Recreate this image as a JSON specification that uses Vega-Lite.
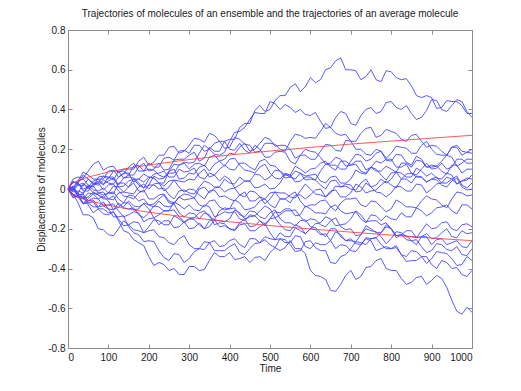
{
"$schema":"https://vega.github.io/schema/vega-lite/v6.json",
"width":404,"height":318,"autosize":"none",
"padding":{"left":68,"top":30,"right":49,"bottom":43},
"background":"white",
"title":{"text":"Trajectories of molecules of an ensemble and the trajectories of an average molecule","fontSize":10,"fontWeight":"normal","font":"Liberation Sans","color":"#1a1a1a","offset":6},
"config":{"view":{"stroke":"#8c8c8c","strokeWidth":1},"axis":{"grid":false,"domainColor":"#8c8c8c","tickColor":"#8c8c8c","labelColor":"#1a1a1a","labelFont":"Liberation Sans","labelFontSize":10,"titleFont":"Liberation Sans","titleFontSize":10,"titleFontWeight":"normal","titleColor":"#1a1a1a"}},
"resolve":{"axis":{"x":"independent","y":"independent"}},
"layer":[
{"data":{"values":[
{"s":"a","x":0,"y":0},{"s":"a","x":25,"y":0.03},{"s":"a","x":50,"y":-0.01},{"s":"a","x":75,"y":0.04},{"s":"a","x":100,"y":0.06},{"s":"a","x":125,"y":0.02},{"s":"a","x":150,"y":0.07},{"s":"a","x":175,"y":0.11},{"s":"a","x":200,"y":0.09},{"s":"a","x":225,"y":0.13},{"s":"a","x":250,"y":0.10},{"s":"a","x":275,"y":0.15},{"s":"a","x":300,"y":0.17},{"s":"a","x":325,"y":0.14},{"s":"a","x":350,"y":0.21},{"s":"a","x":375,"y":0.19},{"s":"a","x":400,"y":0.25},{"s":"a","x":425,"y":0.31},{"s":"a","x":450,"y":0.33},{"s":"a","x":475,"y":0.42},{"s":"a","x":500,"y":0.40},{"s":"a","x":525,"y":0.47},{"s":"a","x":550,"y":0.51},{"s":"a","x":575,"y":0.49},{"s":"a","x":600,"y":0.56},{"s":"a","x":625,"y":0.55},{"s":"a","x":650,"y":0.61},{"s":"a","x":675,"y":0.66},{"s":"a","x":700,"y":0.60},{"s":"a","x":725,"y":0.55},{"s":"a","x":750,"y":0.60},{"s":"a","x":775,"y":0.54},{"s":"a","x":800,"y":0.59},{"s":"a","x":825,"y":0.55},{"s":"a","x":850,"y":0.52},{"s":"a","x":875,"y":0.46},{"s":"a","x":900,"y":0.46},{"s":"a","x":925,"y":0.41},{"s":"a","x":950,"y":0.44},{"s":"a","x":975,"y":0.42},{"s":"a","x":1000,"y":0.38},
{"s":"a","x":12.5,"y":0.035},{"s":"a","x":37.5,"y":-0.01},{"s":"a","x":62.5,"y":0.025},{"s":"a","x":87.5,"y":0.02},{"s":"a","x":112.5,"y":0.06},{"s":"a","x":137.5,"y":0.055},{"s":"a","x":162.5,"y":0.07},{"s":"a","x":187.5,"y":0.13},{"s":"a","x":212.5,"y":0.10},{"s":"a","x":237.5,"y":0.095},{"s":"a","x":262.5,"y":0.145},{"s":"a","x":287.5,"y":0.15},{"s":"a","x":312.5,"y":0.185},{"s":"a","x":337.5,"y":0.155},{"s":"a","x":362.5,"y":0.19},{"s":"a","x":387.5,"y":0.24},{"s":"a","x":412.5,"y":0.25},{"s":"a","x":437.5,"y":0.33},{"s":"a","x":462.5,"y":0.395},{"s":"a","x":487.5,"y":0.39},{"s":"a","x":512.5,"y":0.445},{"s":"a","x":537.5,"y":0.47},{"s":"a","x":562.5,"y":0.53},{"s":"a","x":587.5,"y":0.515},{"s":"a","x":612.5,"y":0.535},{"s":"a","x":637.5,"y":0.60},{"s":"a","x":662.5,"y":0.645},{"s":"a","x":687.5,"y":0.60},{"s":"a","x":712.5,"y":0.595},{"s":"a","x":737.5,"y":0.565},{"s":"a","x":762.5,"y":0.55},{"s":"a","x":787.5,"y":0.595},{"s":"a","x":812.5,"y":0.56},{"s":"a","x":837.5,"y":0.555},{"s":"a","x":862.5,"y":0.47},{"s":"a","x":887.5,"y":0.47},{"s":"a","x":912.5,"y":0.405},{"s":"a","x":937.5,"y":0.445},{"s":"a","x":962.5,"y":0.44},{"s":"a","x":987.5,"y":0.38},
{"s":"b","x":0,"y":0},{"s":"b","x":25,"y":-0.03},{"s":"b","x":50,"y":0.02},{"s":"b","x":75,"y":-0.01},{"s":"b","x":100,"y":-0.02},{"s":"b","x":125,"y":0.03},{"s":"b","x":150,"y":0.01},{"s":"b","x":175,"y":0.05},{"s":"b","x":200,"y":0.06},{"s":"b","x":225,"y":0.03},{"s":"b","x":250,"y":0.09},{"s":"b","x":275,"y":0.12},{"s":"b","x":300,"y":0.13},{"s":"b","x":325,"y":0.18},{"s":"b","x":350,"y":0.20},{"s":"b","x":375,"y":0.17},{"s":"b","x":400,"y":0.24},{"s":"b","x":425,"y":0.29},{"s":"b","x":450,"y":0.35},{"s":"b","x":475,"y":0.38},{"s":"b","x":500,"y":0.44},{"s":"b","x":525,"y":0.40},{"s":"b","x":550,"y":0.41},{"s":"b","x":575,"y":0.40},{"s":"b","x":600,"y":0.37},{"s":"b","x":625,"y":0.34},{"s":"b","x":650,"y":0.31},{"s":"b","x":675,"y":0.39},{"s":"b","x":700,"y":0.33},{"s":"b","x":725,"y":0.37},{"s":"b","x":750,"y":0.41},{"s":"b","x":775,"y":0.39},{"s":"b","x":800,"y":0.44},{"s":"b","x":825,"y":0.40},{"s":"b","x":850,"y":0.38},{"s":"b","x":875,"y":0.36},{"s":"b","x":900,"y":0.45},{"s":"b","x":925,"y":0.40},{"s":"b","x":950,"y":0.42},{"s":"b","x":975,"y":0.44},{"s":"b","x":1000,"y":0.36},
{"s":"b","x":12.5,"y":0.015},{"s":"b","x":37.5,"y":-0.025},{"s":"b","x":62.5,"y":-0.005},{"s":"b","x":87.5,"y":0.005},{"s":"b","x":112.5,"y":-0.025},{"s":"b","x":137.5,"y":0.03},{"s":"b","x":162.5,"y":0.05},{"s":"b","x":187.5,"y":0.035},{"s":"b","x":212.5,"y":0.055},{"s":"b","x":237.5,"y":0.03},{"s":"b","x":262.5,"y":0.125},{"s":"b","x":287.5,"y":0.135},{"s":"b","x":312.5,"y":0.135},{"s":"b","x":337.5,"y":0.22},{"s":"b","x":362.5,"y":0.175},{"s":"b","x":387.5,"y":0.185},{"s":"b","x":412.5,"y":0.285},{"s":"b","x":437.5,"y":0.31},{"s":"b","x":462.5,"y":0.385},{"s":"b","x":487.5,"y":0.38},{"s":"b","x":512.5,"y":0.43},{"s":"b","x":537.5,"y":0.425},{"s":"b","x":562.5,"y":0.385},{"s":"b","x":587.5,"y":0.375},{"s":"b","x":612.5,"y":0.385},{"s":"b","x":637.5,"y":0.305},{"s":"b","x":662.5,"y":0.36},{"s":"b","x":687.5,"y":0.38},{"s":"b","x":712.5,"y":0.32},{"s":"b","x":737.5,"y":0.40},{"s":"b","x":762.5,"y":0.38},{"s":"b","x":787.5,"y":0.435},{"s":"b","x":812.5,"y":0.41},{"s":"b","x":837.5,"y":0.42},{"s":"b","x":862.5,"y":0.35},{"s":"b","x":887.5,"y":0.395},{"s":"b","x":912.5,"y":0.445},{"s":"b","x":937.5,"y":0.39},{"s":"b","x":962.5,"y":0.45},{"s":"b","x":987.5,"y":0.39},
{"s":"c","x":0,"y":0},{"s":"c","x":25,"y":0.04},{"s":"c","x":50,"y":0.07},{"s":"c","x":75,"y":0.05},{"s":"c","x":100,"y":0.09},{"s":"c","x":125,"y":0.06},{"s":"c","x":150,"y":0.11},{"s":"c","x":175,"y":0.09},{"s":"c","x":200,"y":0.13},{"s":"c","x":225,"y":0.11},{"s":"c","x":250,"y":0.16},{"s":"c","x":275,"y":0.19},{"s":"c","x":300,"y":0.18},{"s":"c","x":325,"y":0.22},{"s":"c","x":350,"y":0.20},{"s":"c","x":375,"y":0.24},{"s":"c","x":400,"y":0.21},{"s":"c","x":425,"y":0.25},{"s":"c","x":450,"y":0.22},{"s":"c","x":475,"y":0.19},{"s":"c","x":500,"y":0.23},{"s":"c","x":525,"y":0.20},{"s":"c","x":550,"y":0.24},{"s":"c","x":575,"y":0.27},{"s":"c","x":600,"y":0.26},{"s":"c","x":625,"y":0.29},{"s":"c","x":650,"y":0.31},{"s":"c","x":675,"y":0.27},{"s":"c","x":700,"y":0.24},{"s":"c","x":725,"y":0.28},{"s":"c","x":750,"y":0.31},{"s":"c","x":775,"y":0.27},{"s":"c","x":800,"y":0.29},{"s":"c","x":825,"y":0.25},{"s":"c","x":850,"y":0.27},{"s":"c","x":875,"y":0.24},{"s":"c","x":900,"y":0.22},{"s":"c","x":925,"y":0.19},{"s":"c","x":950,"y":0.21},{"s":"c","x":975,"y":0.17},{"s":"c","x":1000,"y":0.18},
{"s":"c","x":12.5,"y":0},{"s":"c","x":37.5,"y":0.085},{"s":"c","x":62.5,"y":0.05},{"s":"c","x":87.5,"y":0.05},{"s":"c","x":112.5,"y":0.095},{"s":"c","x":137.5,"y":0.075},{"s":"c","x":162.5,"y":0.13},{"s":"c","x":187.5,"y":0.09},{"s":"c","x":212.5,"y":0.11},{"s":"c","x":237.5,"y":0.155},{"s":"c","x":262.5,"y":0.145},{"s":"c","x":287.5,"y":0.195},{"s":"c","x":312.5,"y":0.22},{"s":"c","x":337.5,"y":0.19},{"s":"c","x":362.5,"y":0.23},{"s":"c","x":387.5,"y":0.205},{"s":"c","x":412.5,"y":0.26},{"s":"c","x":437.5,"y":0.225},{"s":"c","x":462.5,"y":0.185},{"s":"c","x":487.5,"y":0.23},{"s":"c","x":512.5,"y":0.225},{"s":"c","x":537.5,"y":0.19},{"s":"c","x":562.5,"y":0.275},{"s":"c","x":587.5,"y":0.255},{"s":"c","x":612.5,"y":0.255},{"s":"c","x":637.5,"y":0.33},{"s":"c","x":662.5,"y":0.28},{"s":"c","x":687.5,"y":0.275},{"s":"c","x":712.5,"y":0.24},{"s":"c","x":737.5,"y":0.305},{"s":"c","x":762.5,"y":0.26},{"s":"c","x":787.5,"y":0.30},{"s":"c","x":812.5,"y":0.28},{"s":"c","x":837.5,"y":0.24},{"s":"c","x":862.5,"y":0.275},{"s":"c","x":887.5,"y":0.21},{"s":"c","x":912.5,"y":0.215},{"s":"c","x":937.5,"y":0.17},{"s":"c","x":962.5,"y":0.21},{"s":"c","x":987.5,"y":0.185},
{"s":"d","x":0,"y":0},{"s":"d","x":25,"y":0.06},{"s":"d","x":50,"y":0.09},{"s":"d","x":75,"y":0.14},{"s":"d","x":100,"y":0.11},{"s":"d","x":125,"y":0.08},{"s":"d","x":150,"y":0.10},{"s":"d","x":175,"y":0.14},{"s":"d","x":200,"y":0.12},{"s":"d","x":225,"y":0.17},{"s":"d","x":250,"y":0.21},{"s":"d","x":275,"y":0.18},{"s":"d","x":300,"y":0.22},{"s":"d","x":325,"y":0.25},{"s":"d","x":350,"y":0.28},{"s":"d","x":375,"y":0.24},{"s":"d","x":400,"y":0.20},{"s":"d","x":425,"y":0.23},{"s":"d","x":450,"y":0.18},{"s":"d","x":475,"y":0.20},{"s":"d","x":500,"y":0.16},{"s":"d","x":525,"y":0.19},{"s":"d","x":550,"y":0.14},{"s":"d","x":575,"y":0.17},{"s":"d","x":600,"y":0.15},{"s":"d","x":625,"y":0.19},{"s":"d","x":650,"y":0.22},{"s":"d","x":675,"y":0.19},{"s":"d","x":700,"y":0.24},{"s":"d","x":725,"y":0.20},{"s":"d","x":750,"y":0.17},{"s":"d","x":775,"y":0.19},{"s":"d","x":800,"y":0.14},{"s":"d","x":825,"y":0.17},{"s":"d","x":850,"y":0.12},{"s":"d","x":875,"y":0.15},{"s":"d","x":900,"y":0.11},{"s":"d","x":925,"y":0.14},{"s":"d","x":950,"y":0.16},{"s":"d","x":975,"y":0.13},{"s":"d","x":1000,"y":0.15},
{"s":"d","x":12.5,"y":0.05},{"s":"d","x":37.5,"y":0.055},{"s":"d","x":62.5,"y":0.125},{"s":"d","x":87.5,"y":0.095},{"s":"d","x":112.5,"y":0.115},{"s":"d","x":137.5,"y":0.10},{"s":"d","x":162.5,"y":0.10},{"s":"d","x":187.5,"y":0.16},{"s":"d","x":212.5,"y":0.135},{"s":"d","x":237.5,"y":0.17},{"s":"d","x":262.5,"y":0.215},{"s":"d","x":287.5,"y":0.19},{"s":"d","x":312.5,"y":0.255},{"s":"d","x":337.5,"y":0.235},{"s":"d","x":362.5,"y":0.27},{"s":"d","x":387.5,"y":0.24},{"s":"d","x":412.5,"y":0.195},{"s":"d","x":437.5,"y":0.195},{"s":"d","x":462.5,"y":0.22},{"s":"d","x":487.5,"y":0.16},{"s":"d","x":512.5,"y":0.185},{"s":"d","x":537.5,"y":0.185},{"s":"d","x":562.5,"y":0.125},{"s":"d","x":587.5,"y":0.17},{"s":"d","x":612.5,"y":0.15},{"s":"d","x":637.5,"y":0.225},{"s":"d","x":662.5,"y":0.195},{"s":"d","x":687.5,"y":0.245},{"s":"d","x":712.5,"y":0.20},{"s":"d","x":737.5,"y":0.175},{"s":"d","x":762.5,"y":0.20},{"s":"d","x":787.5,"y":0.145},{"s":"d","x":812.5,"y":0.175},{"s":"d","x":837.5,"y":0.135},{"s":"d","x":862.5,"y":0.165},{"s":"d","x":887.5,"y":0.11},{"s":"d","x":912.5,"y":0.115},{"s":"d","x":937.5,"y":0.17},{"s":"d","x":962.5,"y":0.115},{"s":"d","x":987.5,"y":0.15},
{"s":"e","x":0,"y":0},{"s":"e","x":25,"y":0.02},{"s":"e","x":50,"y":0.05},{"s":"e","x":75,"y":0.03},{"s":"e","x":100,"y":0.06},{"s":"e","x":125,"y":0.09},{"s":"e","x":150,"y":0.07},{"s":"e","x":175,"y":0.12},{"s":"e","x":200,"y":0.10},{"s":"e","x":225,"y":0.07},{"s":"e","x":250,"y":0.09},{"s":"e","x":275,"y":0.05},{"s":"e","x":300,"y":0.08},{"s":"e","x":325,"y":0.11},{"s":"e","x":350,"y":0.09},{"s":"e","x":375,"y":0.14},{"s":"e","x":400,"y":0.15},{"s":"e","x":425,"y":0.12},{"s":"e","x":450,"y":0.09},{"s":"e","x":475,"y":0.11},{"s":"e","x":500,"y":0.08},{"s":"e","x":525,"y":0.05},{"s":"e","x":550,"y":0.07},{"s":"e","x":575,"y":0.04},{"s":"e","x":600,"y":0.06},{"s":"e","x":625,"y":0.09},{"s":"e","x":650,"y":0.12},{"s":"e","x":675,"y":0.10},{"s":"e","x":700,"y":0.14},{"s":"e","x":725,"y":0.17},{"s":"e","x":750,"y":0.15},{"s":"e","x":775,"y":0.19},{"s":"e","x":800,"y":0.18},{"s":"e","x":825,"y":0.21},{"s":"e","x":850,"y":0.18},{"s":"e","x":875,"y":0.22},{"s":"e","x":900,"y":0.20},{"s":"e","x":925,"y":0.17},{"s":"e","x":950,"y":0.21},{"s":"e","x":975,"y":0.19},{"s":"e","x":1000,"y":0.20},
{"s":"e","x":12.5,"y":0.04},{"s":"e","x":37.5,"y":0.015},{"s":"e","x":62.5,"y":0.03},{"s":"e","x":87.5,"y":0.065},{"s":"e","x":112.5,"y":0.045},{"s":"e","x":137.5,"y":0.09},{"s":"e","x":162.5,"y":0.115},{"s":"e","x":187.5,"y":0.09},{"s":"e","x":212.5,"y":0.095},{"s":"e","x":237.5,"y":0.06},{"s":"e","x":262.5,"y":0.10},{"s":"e","x":287.5,"y":0.055},{"s":"e","x":312.5,"y":0.075},{"s":"e","x":337.5,"y":0.12},{"s":"e","x":362.5,"y":0.125},{"s":"e","x":387.5,"y":0.115},{"s":"e","x":412.5,"y":0.155},{"s":"e","x":437.5,"y":0.095},{"s":"e","x":462.5,"y":0.08},{"s":"e","x":487.5,"y":0.125},{"s":"e","x":512.5,"y":0.055},{"s":"e","x":537.5,"y":0.08},{"s":"e","x":562.5,"y":0.035},{"s":"e","x":587.5,"y":0.06},{"s":"e","x":612.5,"y":0.045},{"s":"e","x":637.5,"y":0.125},{"s":"e","x":662.5,"y":0.12},{"s":"e","x":687.5,"y":0.10},{"s":"e","x":712.5,"y":0.175},{"s":"e","x":737.5,"y":0.14},{"s":"e","x":762.5,"y":0.18},{"s":"e","x":787.5,"y":0.155},{"s":"e","x":812.5,"y":0.215},{"s":"e","x":837.5,"y":0.205},{"s":"e","x":862.5,"y":0.18},{"s":"e","x":887.5,"y":0.24},{"s":"e","x":912.5,"y":0.175},{"s":"e","x":937.5,"y":0.17},{"s":"e","x":962.5,"y":0.22},{"s":"e","x":987.5,"y":0.185},
{"s":"f","x":0,"y":0},{"s":"f","x":25,"y":-0.02},{"s":"f","x":50,"y":0.01},{"s":"f","x":75,"y":-0.03},{"s":"f","x":100,"y":-0.02},{"s":"f","x":125,"y":0.01},{"s":"f","x":150,"y":0.04},{"s":"f","x":175,"y":0.02},{"s":"f","x":200,"y":0.05},{"s":"f","x":225,"y":0.08},{"s":"f","x":250,"y":0.06},{"s":"f","x":275,"y":0.10},{"s":"f","x":300,"y":0.09},{"s":"f","x":325,"y":0.06},{"s":"f","x":350,"y":0.08},{"s":"f","x":375,"y":0.04},{"s":"f","x":400,"y":0.05},{"s":"f","x":425,"y":0.02},{"s":"f","x":450,"y":0.04},{"s":"f","x":475,"y":0.01},{"s":"f","x":500,"y":0},{"s":"f","x":525,"y":0.03},{"s":"f","x":550,"y":0.06},{"s":"f","x":575,"y":0.08},{"s":"f","x":600,"y":0.07},{"s":"f","x":625,"y":0.04},{"s":"f","x":650,"y":0.06},{"s":"f","x":675,"y":0.03},{"s":"f","x":700,"y":0.05},{"s":"f","x":725,"y":0.08},{"s":"f","x":750,"y":0.11},{"s":"f","x":775,"y":0.09},{"s":"f","x":800,"y":0.10},{"s":"f","x":825,"y":0.13},{"s":"f","x":850,"y":0.11},{"s":"f","x":875,"y":0.14},{"s":"f","x":900,"y":0.12},{"s":"f","x":925,"y":0.09},{"s":"f","x":950,"y":0.12},{"s":"f","x":975,"y":0.08},{"s":"f","x":1000,"y":0.10},
{"s":"f","x":12.5,"y":-0.03},{"s":"f","x":37.5,"y":0.025},{"s":"f","x":62.5,"y":-0.02},{"s":"f","x":87.5,"y":-0.045},{"s":"f","x":112.5,"y":0.015},{"s":"f","x":137.5,"y":0.015},{"s":"f","x":162.5,"y":0.05},{"s":"f","x":187.5,"y":0.005},{"s":"f","x":212.5,"y":0.075},{"s":"f","x":237.5,"y":0.09},{"s":"f","x":262.5,"y":0.06},{"s":"f","x":287.5,"y":0.085},{"s":"f","x":312.5,"y":0.105},{"s":"f","x":337.5,"y":0.05},{"s":"f","x":362.5,"y":0.07},{"s":"f","x":387.5,"y":0.065},{"s":"f","x":412.5,"y":0.005},{"s":"f","x":437.5,"y":0.04},{"s":"f","x":462.5,"y":0.005},{"s":"f","x":487.5,"y":0.025},{"s":"f","x":512.5,"y":0.005},{"s":"f","x":537.5,"y":0.075},{"s":"f","x":562.5,"y":0.05},{"s":"f","x":587.5,"y":0.065},{"s":"f","x":612.5,"y":0.075},{"s":"f","x":637.5,"y":0.03},{"s":"f","x":662.5,"y":0.065},{"s":"f","x":687.5,"y":0.03},{"s":"f","x":712.5,"y":0.095},{"s":"f","x":737.5,"y":0.075},{"s":"f","x":762.5,"y":0.09},{"s":"f","x":787.5,"y":0.115},{"s":"f","x":812.5,"y":0.085},{"s":"f","x":837.5,"y":0.13},{"s":"f","x":862.5,"y":0.145},{"s":"f","x":887.5,"y":0.11},{"s":"f","x":912.5,"y":0.115},{"s":"f","x":937.5,"y":0.075},{"s":"f","x":962.5,"y":0.12},{"s":"f","x":987.5,"y":0.10},
{"s":"g","x":0,"y":0},{"s":"g","x":25,"y":0.03},{"s":"g","x":50,"y":0.01},{"s":"g","x":75,"y":0.05},{"s":"g","x":100,"y":0.04},{"s":"g","x":125,"y":0.01},{"s":"g","x":150,"y":-0.02},{"s":"g","x":175,"y":0.01},{"s":"g","x":200,"y":0},{"s":"g","x":225,"y":0.03},{"s":"g","x":250,"y":0.01},{"s":"g","x":275,"y":0.04},{"s":"g","x":300,"y":0.05},{"s":"g","x":325,"y":0.08},{"s":"g","x":350,"y":0.06},{"s":"g","x":375,"y":0.10},{"s":"g","x":400,"y":0.10},{"s":"g","x":425,"y":0.13},{"s":"g","x":450,"y":0.11},{"s":"g","x":475,"y":0.14},{"s":"g","x":500,"y":0.12},{"s":"g","x":525,"y":0.09},{"s":"g","x":550,"y":0.06},{"s":"g","x":575,"y":0.08},{"s":"g","x":600,"y":0.05},{"s":"g","x":625,"y":0.02},{"s":"g","x":650,"y":0.04},{"s":"g","x":675,"y":0.01},{"s":"g","x":700,"y":0},{"s":"g","x":725,"y":0.03},{"s":"g","x":750,"y":0.01},{"s":"g","x":775,"y":0.05},{"s":"g","x":800,"y":0.05},{"s":"g","x":825,"y":0.08},{"s":"g","x":850,"y":0.06},{"s":"g","x":875,"y":0.09},{"s":"g","x":900,"y":0.08},{"s":"g","x":925,"y":0.05},{"s":"g","x":950,"y":0.07},{"s":"g","x":975,"y":0.04},{"s":"g","x":1000,"y":0.05},
{"s":"g","x":12.5,"y":0.035},{"s":"g","x":37.5,"y":0},{"s":"g","x":62.5,"y":0.04},{"s":"g","x":87.5,"y":0.025},{"s":"g","x":112.5,"y":0.055},{"s":"g","x":137.5,"y":-0.015},{"s":"g","x":162.5,"y":-0.025},{"s":"g","x":187.5,"y":0.025},{"s":"g","x":212.5,"y":0.025},{"s":"g","x":237.5,"y":-0.01},{"s":"g","x":262.5,"y":0.045},{"s":"g","x":287.5,"y":0.035},{"s":"g","x":312.5,"y":0.045},{"s":"g","x":337.5,"y":0.10},{"s":"g","x":362.5,"y":0.07},{"s":"g","x":387.5,"y":0.12},{"s":"g","x":412.5,"y":0.095},{"s":"g","x":437.5,"y":0.13},{"s":"g","x":462.5,"y":0.095},{"s":"g","x":487.5,"y":0.15},{"s":"g","x":512.5,"y":0.115},{"s":"g","x":537.5,"y":0.055},{"s":"g","x":562.5,"y":0.09},{"s":"g","x":587.5,"y":0.045},{"s":"g","x":612.5,"y":0.045},{"s":"g","x":637.5,"y":0},{"s":"g","x":662.5,"y":0.045},{"s":"g","x":687.5,"y":0.015},{"s":"g","x":712.5,"y":-0.005},{"s":"g","x":737.5,"y":0.05},{"s":"g","x":762.5,"y":0.02},{"s":"g","x":787.5,"y":0.03},{"s":"g","x":812.5,"y":0.085},{"s":"g","x":837.5,"y":0.06},{"s":"g","x":862.5,"y":0.105},{"s":"g","x":887.5,"y":0.065},{"s":"g","x":912.5,"y":0.055},{"s":"g","x":937.5,"y":0.08},{"s":"g","x":962.5,"y":0.025},{"s":"g","x":987.5,"y":0.055},
{"s":"h","x":0,"y":0},{"s":"h","x":25,"y":-0.03},{"s":"h","x":50,"y":-0.05},{"s":"h","x":75,"y":-0.02},{"s":"h","x":100,"y":-0.05},{"s":"h","x":125,"y":-0.02},{"s":"h","x":150,"y":0.01},{"s":"h","x":175,"y":-0.01},{"s":"h","x":200,"y":0.02},{"s":"h","x":225,"y":0},{"s":"h","x":250,"y":-0.03},{"s":"h","x":275,"y":-0.01},{"s":"h","x":300,"y":-0.02},{"s":"h","x":325,"y":0.01},{"s":"h","x":350,"y":0.03},{"s":"h","x":375,"y":0.01},{"s":"h","x":400,"y":0.03},{"s":"h","x":425,"y":0.06},{"s":"h","x":450,"y":0.04},{"s":"h","x":475,"y":0.07},{"s":"h","x":500,"y":0.06},{"s":"h","x":525,"y":0.09},{"s":"h","x":550,"y":0.07},{"s":"h","x":575,"y":0.10},{"s":"h","x":600,"y":0.10},{"s":"h","x":625,"y":0.13},{"s":"h","x":650,"y":0.11},{"s":"h","x":675,"y":0.14},{"s":"h","x":700,"y":0.12},{"s":"h","x":725,"y":0.09},{"s":"h","x":750,"y":0.11},{"s":"h","x":775,"y":0.07},{"s":"h","x":800,"y":0.08},{"s":"h","x":825,"y":0.05},{"s":"h","x":850,"y":0.08},{"s":"h","x":875,"y":0.10},{"s":"h","x":900,"y":0.10},{"s":"h","x":925,"y":0.13},{"s":"h","x":950,"y":0.11},{"s":"h","x":975,"y":0.15},{"s":"h","x":1000,"y":0.13},
{"s":"h","x":12.5,"y":0.005},{"s":"h","x":37.5,"y":-0.07},{"s":"h","x":62.5,"y":-0.025},{"s":"h","x":87.5,"y":-0.015},{"s":"h","x":112.5,"y":-0.055},{"s":"h","x":137.5,"y":-0.015},{"s":"h","x":162.5,"y":0.03},{"s":"h","x":187.5,"y":-0.015},{"s":"h","x":212.5,"y":0.02},{"s":"h","x":237.5,"y":0.005},{"s":"h","x":262.5,"y":-0.05},{"s":"h","x":287.5,"y":-0.005},{"s":"h","x":312.5,"y":-0.025},{"s":"h","x":337.5,"y":0.04},{"s":"h","x":362.5,"y":0.01},{"s":"h","x":387.5,"y":0.05},{"s":"h","x":412.5,"y":0.025},{"s":"h","x":437.5,"y":0.04},{"s":"h","x":462.5,"y":0.075},{"s":"h","x":487.5,"y":0.045},{"s":"h","x":512.5,"y":0.095},{"s":"h","x":537.5,"y":0.07},{"s":"h","x":562.5,"y":0.115},{"s":"h","x":587.5,"y":0.08},{"s":"h","x":612.5,"y":0.105},{"s":"h","x":637.5,"y":0.14},{"s":"h","x":662.5,"y":0.095},{"s":"h","x":687.5,"y":0.14},{"s":"h","x":712.5,"y":0.125},{"s":"h","x":737.5,"y":0.08},{"s":"h","x":762.5,"y":0.10},{"s":"h","x":787.5,"y":0.045},{"s":"h","x":812.5,"y":0.085},{"s":"h","x":837.5,"y":0.075},{"s":"h","x":862.5,"y":0.07},{"s":"h","x":887.5,"y":0.13},{"s":"h","x":912.5,"y":0.105},{"s":"h","x":937.5,"y":0.10},{"s":"h","x":962.5,"y":0.15},{"s":"h","x":987.5,"y":0.13},
{"s":"i","x":0,"y":0},{"s":"i","x":25,"y":0.02},{"s":"i","x":50,"y":0},{"s":"i","x":75,"y":0.03},{"s":"i","x":100,"y":0.02},{"s":"i","x":125,"y":-0.01},{"s":"i","x":150,"y":-0.04},{"s":"i","x":175,"y":-0.02},{"s":"i","x":200,"y":-0.05},{"s":"i","x":225,"y":-0.03},{"s":"i","x":250,"y":-0.06},{"s":"i","x":275,"y":-0.04},{"s":"i","x":300,"y":-0.03},{"s":"i","x":325,"y":0},{"s":"i","x":350,"y":-0.02},{"s":"i","x":375,"y":0.01},{"s":"i","x":400,"y":0},{"s":"i","x":425,"y":-0.03},{"s":"i","x":450,"y":-0.01},{"s":"i","x":475,"y":-0.04},{"s":"i","x":500,"y":-0.05},{"s":"i","x":525,"y":-0.02},{"s":"i","x":550,"y":-0.04},{"s":"i","x":575,"y":-0.01},{"s":"i","x":600,"y":0},{"s":"i","x":625,"y":-0.03},{"s":"i","x":650,"y":-0.01},{"s":"i","x":675,"y":-0.04},{"s":"i","x":700,"y":-0.02},{"s":"i","x":725,"y":0.01},{"s":"i","x":750,"y":-0.01},{"s":"i","x":775,"y":0.02},{"s":"i","x":800,"y":0.02},{"s":"i","x":825,"y":0.05},{"s":"i","x":850,"y":0.03},{"s":"i","x":875,"y":0.06},{"s":"i","x":900,"y":0.05},{"s":"i","x":925,"y":0.02},{"s":"i","x":950,"y":0.04},{"s":"i","x":975,"y":0.01},{"s":"i","x":1000,"y":0},
{"s":"i","x":12.5,"y":-0.01},{"s":"i","x":37.5,"y":0.03},{"s":"i","x":62.5,"y":0.025},{"s":"i","x":87.5,"y":-0.005},{"s":"i","x":112.5,"y":0.025},{"s":"i","x":137.5,"y":-0.035},{"s":"i","x":162.5,"y":-0.05},{"s":"i","x":187.5,"y":-0.005},{"s":"i","x":212.5,"y":-0.05},{"s":"i","x":237.5,"y":-0.025},{"s":"i","x":262.5,"y":-0.07},{"s":"i","x":287.5,"y":-0.025},{"s":"i","x":312.5,"y":-0.045},{"s":"i","x":337.5,"y":0.01},{"s":"i","x":362.5,"y":0.005},{"s":"i","x":387.5,"y":-0.015},{"s":"i","x":412.5,"y":0.005},{"s":"i","x":437.5,"y":-0.04},{"s":"i","x":462.5,"y":-0.015},{"s":"i","x":487.5,"y":-0.075},{"s":"i","x":512.5,"y":-0.015},{"s":"i","x":537.5,"y":-0.02},{"s":"i","x":562.5,"y":-0.045},{"s":"i","x":587.5,"y":0.025},{"s":"i","x":612.5,"y":-0.025},{"s":"i","x":637.5,"y":-0.04},{"s":"i","x":662.5,"y":-0.005},{"s":"i","x":687.5,"y":-0.04},{"s":"i","x":712.5,"y":0.025},{"s":"i","x":737.5,"y":-0.02},{"s":"i","x":762.5,"y":-0.005},{"s":"i","x":787.5,"y":0.04},{"s":"i","x":812.5,"y":0.005},{"s":"i","x":837.5,"y":0.05},{"s":"i","x":862.5,"y":0.065},{"s":"i","x":887.5,"y":0.035},{"s":"i","x":912.5,"y":0.045},{"s":"i","x":937.5,"y":0.01},{"s":"i","x":962.5,"y":0.055},{"s":"i","x":987.5,"y":-0.005},
{"s":"j","x":0,"y":0},{"s":"j","x":25,"y":-0.04},{"s":"j","x":50,"y":-0.02},{"s":"j","x":75,"y":-0.05},{"s":"j","x":100,"y":-0.06},{"s":"j","x":125,"y":-0.09},{"s":"j","x":150,"y":-0.07},{"s":"j","x":175,"y":-0.10},{"s":"j","x":200,"y":-0.08},{"s":"j","x":225,"y":-0.05},{"s":"j","x":250,"y":-0.07},{"s":"j","x":275,"y":-0.04},{"s":"j","x":300,"y":-0.05},{"s":"j","x":325,"y":-0.08},{"s":"j","x":350,"y":-0.06},{"s":"j","x":375,"y":-0.09},{"s":"j","x":400,"y":-0.10},{"s":"j","x":425,"y":-0.07},{"s":"j","x":450,"y":-0.10},{"s":"j","x":475,"y":-0.06},{"s":"j","x":500,"y":-0.08},{"s":"j","x":525,"y":-0.05},{"s":"j","x":550,"y":-0.07},{"s":"j","x":575,"y":-0.03},{"s":"j","x":600,"y":-0.03},{"s":"j","x":625,"y":0},{"s":"j","x":650,"y":-0.02},{"s":"j","x":675,"y":0.01},{"s":"j","x":700,"y":0.02},{"s":"j","x":725,"y":-0.01},{"s":"j","x":750,"y":0.01},{"s":"j","x":775,"y":-0.02},{"s":"j","x":800,"y":-0.02},{"s":"j","x":825,"y":0.01},{"s":"j","x":850,"y":-0.01},{"s":"j","x":875,"y":0.02},{"s":"j","x":900,"y":0},{"s":"j","x":925,"y":0.03},{"s":"j","x":950,"y":0.05},{"s":"j","x":975,"y":0.04},{"s":"j","x":1000,"y":0.07},
{"s":"j","x":12.5,"y":0.01},{"s":"j","x":37.5,"y":-0.05},{"s":"j","x":62.5,"y":-0.025},{"s":"j","x":87.5,"y":-0.035},{"s":"j","x":112.5,"y":-0.105},{"s":"j","x":137.5,"y":-0.07},{"s":"j","x":162.5,"y":-0.105},{"s":"j","x":187.5,"y":-0.07},{"s":"j","x":212.5,"y":-0.075},{"s":"j","x":237.5,"y":-0.03},{"s":"j","x":262.5,"y":-0.075},{"s":"j","x":287.5,"y":-0.055},{"s":"j","x":312.5,"y":-0.045},{"s":"j","x":337.5,"y":-0.09},{"s":"j","x":362.5,"y":-0.055},{"s":"j","x":387.5,"y":-0.105},{"s":"j","x":412.5,"y":-0.055},{"s":"j","x":437.5,"y":-0.105},{"s":"j","x":462.5,"y":-0.09},{"s":"j","x":487.5,"y":-0.05},{"s":"j","x":512.5,"y":-0.095},{"s":"j","x":537.5,"y":-0.05},{"s":"j","x":562.5,"y":-0.03},{"s":"j","x":587.5,"y":-0.05},{"s":"j","x":612.5,"y":-0.005},{"s":"j","x":637.5,"y":-0.04},{"s":"j","x":662.5,"y":0.015},{"s":"j","x":687.5,"y":0.025},{"s":"j","x":712.5,"y":-0.015},{"s":"j","x":737.5,"y":0.03},{"s":"j","x":762.5,"y":-0.015},{"s":"j","x":787.5,"y":-0.04},{"s":"j","x":812.5,"y":0.015},{"s":"j","x":837.5,"y":-0.01},{"s":"j","x":862.5,"y":0.025},{"s":"j","x":887.5,"y":-0.02},{"s":"j","x":912.5,"y":0.025},{"s":"j","x":937.5,"y":0.06},{"s":"j","x":962.5,"y":0.025},{"s":"j","x":987.5,"y":0.045},
{"s":"k","x":0,"y":0},{"s":"k","x":25,"y":0.03},{"s":"k","x":50,"y":0.05},{"s":"k","x":75,"y":0.02},{"s":"k","x":100,"y":0.03},{"s":"k","x":125,"y":0.06},{"s":"k","x":150,"y":0.08},{"s":"k","x":175,"y":0.05},{"s":"k","x":200,"y":0.06},{"s":"k","x":225,"y":0.03},{"s":"k","x":250,"y":0.04},{"s":"k","x":275,"y":0.01},{"s":"k","x":300,"y":0},{"s":"k","x":325,"y":-0.03},{"s":"k","x":350,"y":-0.01},{"s":"k","x":375,"y":-0.04},{"s":"k","x":400,"y":-0.05},{"s":"k","x":425,"y":-0.03},{"s":"k","x":450,"y":-0.06},{"s":"k","x":475,"y":-0.04},{"s":"k","x":500,"y":-0.02},{"s":"k","x":525,"y":-0.05},{"s":"k","x":550,"y":-0.03},{"s":"k","x":575,"y":-0.06},{"s":"k","x":600,"y":-0.08},{"s":"k","x":625,"y":-0.06},{"s":"k","x":650,"y":-0.09},{"s":"k","x":675,"y":-0.07},{"s":"k","x":700,"y":-0.05},{"s":"k","x":725,"y":-0.08},{"s":"k","x":750,"y":-0.06},{"s":"k","x":775,"y":-0.09},{"s":"k","x":800,"y":-0.10},{"s":"k","x":825,"y":-0.07},{"s":"k","x":850,"y":-0.09},{"s":"k","x":875,"y":-0.06},{"s":"k","x":900,"y":-0.05},{"s":"k","x":925,"y":-0.08},{"s":"k","x":950,"y":-0.05},{"s":"k","x":975,"y":-0.02},{"s":"k","x":1000,"y":-0.03},
{"s":"k","x":12.5,"y":-0.005},{"s":"k","x":37.5,"y":0.07},{"s":"k","x":62.5,"y":0.025},{"s":"k","x":87.5,"y":0.045},{"s":"k","x":112.5,"y":0.025},{"s":"k","x":137.5,"y":0.08},{"s":"k","x":162.5,"y":0.035},{"s":"k","x":187.5,"y":0.075},{"s":"k","x":212.5,"y":0.055},{"s":"k","x":237.5,"y":0.015},{"s":"k","x":262.5,"y":0.045},{"s":"k","x":287.5,"y":-0.015},{"s":"k","x":312.5,"y":-0.005},{"s":"k","x":337.5,"y":-0.05},{"s":"k","x":362.5,"y":-0.005},{"s":"k","x":387.5,"y":-0.035},{"s":"k","x":412.5,"y":-0.06},{"s":"k","x":437.5,"y":-0.015},{"s":"k","x":462.5,"y":-0.06},{"s":"k","x":487.5,"y":-0.05},{"s":"k","x":512.5,"y":-0.015},{"s":"k","x":537.5,"y":-0.05},{"s":"k","x":562.5,"y":-0.015},{"s":"k","x":587.5,"y":-0.09},{"s":"k","x":612.5,"y":-0.08},{"s":"k","x":637.5,"y":-0.055},{"s":"k","x":662.5,"y":-0.11},{"s":"k","x":687.5,"y":-0.05},{"s":"k","x":712.5,"y":-0.045},{"s":"k","x":737.5,"y":-0.09},{"s":"k","x":762.5,"y":-0.065},{"s":"k","x":787.5,"y":-0.115},{"s":"k","x":812.5,"y":-0.055},{"s":"k","x":837.5,"y":-0.09},{"s":"k","x":862.5,"y":-0.095},{"s":"k","x":887.5,"y":-0.035},{"s":"k","x":912.5,"y":-0.055},{"s":"k","x":937.5,"y":-0.095},{"s":"k","x":962.5,"y":-0.015},{"s":"k","x":987.5,"y":-0.035},
{"s":"l","x":0,"y":0},{"s":"l","x":25,"y":-0.04},{"s":"l","x":50,"y":-0.07},{"s":"l","x":75,"y":-0.09},{"s":"l","x":100,"y":-0.10},{"s":"l","x":125,"y":-0.07},{"s":"l","x":150,"y":-0.10},{"s":"l","x":175,"y":-0.13},{"s":"l","x":200,"y":-0.12},{"s":"l","x":225,"y":-0.09},{"s":"l","x":250,"y":-0.11},{"s":"l","x":275,"y":-0.08},{"s":"l","x":300,"y":-0.08},{"s":"l","x":325,"y":-0.11},{"s":"l","x":350,"y":-0.09},{"s":"l","x":375,"y":-0.13},{"s":"l","x":400,"y":-0.12},{"s":"l","x":425,"y":-0.15},{"s":"l","x":450,"y":-0.13},{"s":"l","x":475,"y":-0.16},{"s":"l","x":500,"y":-0.15},{"s":"l","x":525,"y":-0.12},{"s":"l","x":550,"y":-0.10},{"s":"l","x":575,"y":-0.13},{"s":"l","x":600,"y":-0.10},{"s":"l","x":625,"y":-0.12},{"s":"l","x":650,"y":-0.09},{"s":"l","x":675,"y":-0.11},{"s":"l","x":700,"y":-0.12},{"s":"l","x":725,"y":-0.15},{"s":"l","x":750,"y":-0.13},{"s":"l","x":775,"y":-0.16},{"s":"l","x":800,"y":-0.15},{"s":"l","x":825,"y":-0.12},{"s":"l","x":850,"y":-0.14},{"s":"l","x":875,"y":-0.11},{"s":"l","x":900,"y":-0.12},{"s":"l","x":925,"y":-0.09},{"s":"l","x":950,"y":-0.11},{"s":"l","x":975,"y":-0.08},{"s":"l","x":1000,"y":-0.10},
{"s":"l","x":12.5,"y":-0.04},{"s":"l","x":37.5,"y":-0.035},{"s":"l","x":62.5,"y":-0.09},{"s":"l","x":87.5,"y":-0.065},{"s":"l","x":112.5,"y":-0.105},{"s":"l","x":137.5,"y":-0.095},{"s":"l","x":162.5,"y":-0.095},{"s":"l","x":187.5,"y":-0.145},{"s":"l","x":212.5,"y":-0.085},{"s":"l","x":237.5,"y":-0.11},{"s":"l","x":262.5,"y":-0.065},{"s":"l","x":287.5,"y":-0.10},{"s":"l","x":312.5,"y":-0.105},{"s":"l","x":337.5,"y":-0.08},{"s":"l","x":362.5,"y":-0.14},{"s":"l","x":387.5,"y":-0.115},{"s":"l","x":412.5,"y":-0.115},{"s":"l","x":437.5,"y":-0.16},{"s":"l","x":462.5,"y":-0.135},{"s":"l","x":487.5,"y":-0.185},{"s":"l","x":512.5,"y":-0.115},{"s":"l","x":537.5,"y":-0.10},{"s":"l","x":562.5,"y":-0.135},{"s":"l","x":587.5,"y":-0.085},{"s":"l","x":612.5,"y":-0.12},{"s":"l","x":637.5,"y":-0.125},{"s":"l","x":662.5,"y":-0.08},{"s":"l","x":687.5,"y":-0.125},{"s":"l","x":712.5,"y":-0.115},{"s":"l","x":737.5,"y":-0.17},{"s":"l","x":762.5,"y":-0.135},{"s":"l","x":787.5,"y":-0.135},{"s":"l","x":812.5,"y":-0.155},{"s":"l","x":837.5,"y":-0.14},{"s":"l","x":862.5,"y":-0.095},{"s":"l","x":887.5,"y":-0.135},{"s":"l","x":912.5,"y":-0.095},{"s":"l","x":937.5,"y":-0.08},{"s":"l","x":962.5,"y":-0.125},{"s":"l","x":987.5,"y":-0.08},
{"s":"m","x":0,"y":0},{"s":"m","x":25,"y":-0.03},{"s":"m","x":50,"y":-0.06},{"s":"m","x":75,"y":-0.05},{"s":"m","x":100,"y":-0.08},{"s":"m","x":125,"y":-0.11},{"s":"m","x":150,"y":-0.13},{"s":"m","x":175,"y":-0.12},{"s":"m","x":200,"y":-0.15},{"s":"m","x":225,"y":-0.18},{"s":"m","x":250,"y":-0.16},{"s":"m","x":275,"y":-0.19},{"s":"m","x":300,"y":-0.20},{"s":"m","x":325,"y":-0.17},{"s":"m","x":350,"y":-0.19},{"s":"m","x":375,"y":-0.16},{"s":"m","x":400,"y":-0.15},{"s":"m","x":425,"y":-0.12},{"s":"m","x":450,"y":-0.14},{"s":"m","x":475,"y":-0.11},{"s":"m","x":500,"y":-0.10},{"s":"m","x":525,"y":-0.13},{"s":"m","x":550,"y":-0.11},{"s":"m","x":575,"y":-0.14},{"s":"m","x":600,"y":-0.15},{"s":"m","x":625,"y":-0.18},{"s":"m","x":650,"y":-0.16},{"s":"m","x":675,"y":-0.19},{"s":"m","x":700,"y":-0.20},{"s":"m","x":725,"y":-0.23},{"s":"m","x":750,"y":-0.21},{"s":"m","x":775,"y":-0.24},{"s":"m","x":800,"y":-0.25},{"s":"m","x":825,"y":-0.22},{"s":"m","x":850,"y":-0.24},{"s":"m","x":875,"y":-0.21},{"s":"m","x":900,"y":-0.20},{"s":"m","x":925,"y":-0.17},{"s":"m","x":950,"y":-0.20},{"s":"m","x":975,"y":-0.18},{"s":"m","x":1000,"y":-0.19},
{"s":"m","x":12.5,"y":-0.045},{"s":"m","x":37.5,"y":-0.025},{"s":"m","x":62.5,"y":-0.045},{"s":"m","x":87.5,"y":-0.085},{"s":"m","x":112.5,"y":-0.075},{"s":"m","x":137.5,"y":-0.14},{"s":"m","x":162.5,"y":-0.115},{"s":"m","x":187.5,"y":-0.165},{"s":"m","x":212.5,"y":-0.145},{"s":"m","x":237.5,"y":-0.16},{"s":"m","x":262.5,"y":-0.195},{"s":"m","x":287.5,"y":-0.165},{"s":"m","x":312.5,"y":-0.195},{"s":"m","x":337.5,"y":-0.20},{"s":"m","x":362.5,"y":-0.155},{"s":"m","x":387.5,"y":-0.165},{"s":"m","x":412.5,"y":-0.105},{"s":"m","x":437.5,"y":-0.15},{"s":"m","x":462.5,"y":-0.135},{"s":"m","x":487.5,"y":-0.085},{"s":"m","x":512.5,"y":-0.145},{"s":"m","x":537.5,"y":-0.11},{"s":"m","x":562.5,"y":-0.105},{"s":"m","x":587.5,"y":-0.165},{"s":"m","x":612.5,"y":-0.155},{"s":"m","x":637.5,"y":-0.19},{"s":"m","x":662.5,"y":-0.145},{"s":"m","x":687.5,"y":-0.205},{"s":"m","x":712.5,"y":-0.235},{"s":"m","x":737.5,"y":-0.20},{"s":"m","x":762.5,"y":-0.215},{"s":"m","x":787.5,"y":-0.275},{"s":"m","x":812.5,"y":-0.215},{"s":"m","x":837.5,"y":-0.24},{"s":"m","x":862.5,"y":-0.245},{"s":"m","x":887.5,"y":-0.175},{"s":"m","x":912.5,"y":-0.195},{"s":"m","x":937.5,"y":-0.165},{"s":"m","x":962.5,"y":-0.21},{"s":"m","x":987.5,"y":-0.175},
{"s":"n","x":0,"y":0},{"s":"n","x":25,"y":-0.02},{"s":"n","x":50,"y":-0.04},{"s":"n","x":75,"y":-0.03},{"s":"n","x":100,"y":-0.05},{"s":"n","x":125,"y":-0.08},{"s":"n","x":150,"y":-0.06},{"s":"n","x":175,"y":-0.09},{"s":"n","x":200,"y":-0.10},{"s":"n","x":225,"y":-0.13},{"s":"n","x":250,"y":-0.11},{"s":"n","x":275,"y":-0.14},{"s":"n","x":300,"y":-0.15},{"s":"n","x":325,"y":-0.18},{"s":"n","x":350,"y":-0.16},{"s":"n","x":375,"y":-0.19},{"s":"n","x":400,"y":-0.20},{"s":"n","x":425,"y":-0.17},{"s":"n","x":450,"y":-0.19},{"s":"n","x":475,"y":-0.16},{"s":"n","x":500,"y":-0.15},{"s":"n","x":525,"y":-0.18},{"s":"n","x":550,"y":-0.21},{"s":"n","x":575,"y":-0.19},{"s":"n","x":600,"y":-0.20},{"s":"n","x":625,"y":-0.17},{"s":"n","x":650,"y":-0.15},{"s":"n","x":675,"y":-0.18},{"s":"n","x":700,"y":-0.15},{"s":"n","x":725,"y":-0.13},{"s":"n","x":750,"y":-0.16},{"s":"n","x":775,"y":-0.18},{"s":"n","x":800,"y":-0.20},{"s":"n","x":825,"y":-0.23},{"s":"n","x":850,"y":-0.21},{"s":"n","x":875,"y":-0.24},{"s":"n","x":900,"y":-0.25},{"s":"n","x":925,"y":-0.22},{"s":"n","x":950,"y":-0.24},{"s":"n","x":975,"y":-0.21},{"s":"n","x":1000,"y":-0.22},
{"s":"n","x":12.5,"y":0.01},{"s":"n","x":37.5,"y":-0.05},{"s":"n","x":62.5,"y":-0.015},{"s":"n","x":87.5,"y":-0.05},{"s":"n","x":112.5,"y":-0.035},{"s":"n","x":137.5,"y":-0.09},{"s":"n","x":162.5,"y":-0.085},{"s":"n","x":187.5,"y":-0.075},{"s":"n","x":212.5,"y":-0.145},{"s":"n","x":237.5,"y":-0.11},{"s":"n","x":262.5,"y":-0.105},{"s":"n","x":287.5,"y":-0.165},{"s":"n","x":312.5,"y":-0.155},{"s":"n","x":337.5,"y":-0.20},{"s":"n","x":362.5,"y":-0.155},{"s":"n","x":387.5,"y":-0.185},{"s":"n","x":412.5,"y":-0.205},{"s":"n","x":437.5,"y":-0.15},{"s":"n","x":462.5,"y":-0.185},{"s":"n","x":487.5,"y":-0.175},{"s":"n","x":512.5,"y":-0.145},{"s":"n","x":537.5,"y":-0.205},{"s":"n","x":562.5,"y":-0.18},{"s":"n","x":587.5,"y":-0.225},{"s":"n","x":612.5,"y":-0.175},{"s":"n","x":637.5,"y":-0.14},{"s":"n","x":662.5,"y":-0.185},{"s":"n","x":687.5,"y":-0.175},{"s":"n","x":712.5,"y":-0.11},{"s":"n","x":737.5,"y":-0.165},{"s":"n","x":762.5,"y":-0.16},{"s":"n","x":787.5,"y":-0.17},{"s":"n","x":812.5,"y":-0.245},{"s":"n","x":837.5,"y":-0.21},{"s":"n","x":862.5,"y":-0.245},{"s":"n","x":887.5,"y":-0.225},{"s":"n","x":912.5,"y":-0.245},{"s":"n","x":937.5,"y":-0.20},{"s":"n","x":962.5,"y":-0.245},{"s":"n","x":987.5,"y":-0.225},
{"s":"o","x":0,"y":0},{"s":"o","x":25,"y":-0.07},{"s":"o","x":50,"y":-0.13},{"s":"o","x":75,"y":-0.20},{"s":"o","x":100,"y":-0.23},{"s":"o","x":125,"y":-0.20},{"s":"o","x":150,"y":-0.18},{"s":"o","x":175,"y":-0.21},{"s":"o","x":200,"y":-0.19},{"s":"o","x":225,"y":-0.16},{"s":"o","x":250,"y":-0.18},{"s":"o","x":275,"y":-0.15},{"s":"o","x":300,"y":-0.15},{"s":"o","x":325,"y":-0.12},{"s":"o","x":350,"y":-0.14},{"s":"o","x":375,"y":-0.11},{"s":"o","x":400,"y":-0.10},{"s":"o","x":425,"y":-0.13},{"s":"o","x":450,"y":-0.11},{"s":"o","x":475,"y":-0.14},{"s":"o","x":500,"y":-0.12},{"s":"o","x":525,"y":-0.15},{"s":"o","x":550,"y":-0.17},{"s":"o","x":575,"y":-0.16},{"s":"o","x":600,"y":-0.19},{"s":"o","x":625,"y":-0.22},{"s":"o","x":650,"y":-0.20},{"s":"o","x":675,"y":-0.24},{"s":"o","x":700,"y":-0.26},{"s":"o","x":725,"y":-0.23},{"s":"o","x":750,"y":-0.20},{"s":"o","x":775,"y":-0.22},{"s":"o","x":800,"y":-0.20},{"s":"o","x":825,"y":-0.23},{"s":"o","x":850,"y":-0.26},{"s":"o","x":875,"y":-0.24},{"s":"o","x":900,"y":-0.28},{"s":"o","x":925,"y":-0.25},{"s":"o","x":950,"y":-0.27},{"s":"o","x":975,"y":-0.29},{"s":"o","x":1000,"y":-0.26},
{"s":"o","x":12.5,"y":-0.025},{"s":"o","x":37.5,"y":-0.13},{"s":"o","x":62.5,"y":-0.145},{"s":"o","x":87.5,"y":-0.205},{"s":"o","x":112.5,"y":-0.235},{"s":"o","x":137.5,"y":-0.16},{"s":"o","x":162.5,"y":-0.205},{"s":"o","x":187.5,"y":-0.22},{"s":"o","x":212.5,"y":-0.155},{"s":"o","x":237.5,"y":-0.18},{"s":"o","x":262.5,"y":-0.135},{"s":"o","x":287.5,"y":-0.17},{"s":"o","x":312.5,"y":-0.145},{"s":"o","x":337.5,"y":-0.11},{"s":"o","x":362.5,"y":-0.155},{"s":"o","x":387.5,"y":-0.095},{"s":"o","x":412.5,"y":-0.095},{"s":"o","x":437.5,"y":-0.14},{"s":"o","x":462.5,"y":-0.115},{"s":"o","x":487.5,"y":-0.15},{"s":"o","x":512.5,"y":-0.105},{"s":"o","x":537.5,"y":-0.17},{"s":"o","x":562.5,"y":-0.185},{"s":"o","x":587.5,"y":-0.155},{"s":"o","x":612.5,"y":-0.195},{"s":"o","x":637.5,"y":-0.24},{"s":"o","x":662.5,"y":-0.20},{"s":"o","x":687.5,"y":-0.26},{"s":"o","x":712.5,"y":-0.265},{"s":"o","x":737.5,"y":-0.185},{"s":"o","x":762.5,"y":-0.22},{"s":"o","x":787.5,"y":-0.19},{"s":"o","x":812.5,"y":-0.235},{"s":"o","x":837.5,"y":-0.235},{"s":"o","x":862.5,"y":-0.28},{"s":"o","x":887.5,"y":-0.24},{"s":"o","x":912.5,"y":-0.255},{"s":"o","x":937.5,"y":-0.28},{"s":"o","x":962.5,"y":-0.26},{"s":"o","x":987.5,"y":-0.295},
{"s":"p","x":0,"y":0},{"s":"p","x":25,"y":-0.04},{"s":"p","x":50,"y":-0.08},{"s":"p","x":75,"y":-0.10},{"s":"p","x":100,"y":-0.12},{"s":"p","x":125,"y":-0.15},{"s":"p","x":150,"y":-0.18},{"s":"p","x":175,"y":-0.17},{"s":"p","x":200,"y":-0.21},{"s":"p","x":225,"y":-0.24},{"s":"p","x":250,"y":-0.27},{"s":"p","x":275,"y":-0.25},{"s":"p","x":300,"y":-0.28},{"s":"p","x":325,"y":-0.30},{"s":"p","x":350,"y":-0.27},{"s":"p","x":375,"y":-0.29},{"s":"p","x":400,"y":-0.26},{"s":"p","x":425,"y":-0.28},{"s":"p","x":450,"y":-0.25},{"s":"p","x":475,"y":-0.27},{"s":"p","x":500,"y":-0.25},{"s":"p","x":525,"y":-0.22},{"s":"p","x":550,"y":-0.24},{"s":"p","x":575,"y":-0.21},{"s":"p","x":600,"y":-0.20},{"s":"p","x":625,"y":-0.23},{"s":"p","x":650,"y":-0.26},{"s":"p","x":675,"y":-0.28},{"s":"p","x":700,"y":-0.31},{"s":"p","x":725,"y":-0.28},{"s":"p","x":750,"y":-0.25},{"s":"p","x":775,"y":-0.22},{"s":"p","x":800,"y":-0.20},{"s":"p","x":825,"y":-0.23},{"s":"p","x":850,"y":-0.26},{"s":"p","x":875,"y":-0.29},{"s":"p","x":900,"y":-0.31},{"s":"p","x":925,"y":-0.28},{"s":"p","x":950,"y":-0.31},{"s":"p","x":975,"y":-0.33},{"s":"p","x":1000,"y":-0.30},
{"s":"p","x":12.5,"y":-0.03},{"s":"p","x":37.5,"y":-0.04},{"s":"p","x":62.5,"y":-0.12},{"s":"p","x":87.5,"y":-0.10},{"s":"p","x":112.5,"y":-0.115},{"s":"p","x":137.5,"y":-0.185},{"s":"p","x":162.5,"y":-0.165},{"s":"p","x":187.5,"y":-0.22},{"s":"p","x":212.5,"y":-0.205},{"s":"p","x":237.5,"y":-0.245},{"s":"p","x":262.5,"y":-0.28},{"s":"p","x":287.5,"y":-0.235},{"s":"p","x":312.5,"y":-0.30},{"s":"p","x":337.5,"y":-0.305},{"s":"p","x":362.5,"y":-0.26},{"s":"p","x":387.5,"y":-0.285},{"s":"p","x":412.5,"y":-0.25},{"s":"p","x":437.5,"y":-0.295},{"s":"p","x":462.5,"y":-0.25},{"s":"p","x":487.5,"y":-0.24},{"s":"p","x":512.5,"y":-0.255},{"s":"p","x":537.5,"y":-0.24},{"s":"p","x":562.5,"y":-0.195},{"s":"p","x":587.5,"y":-0.225},{"s":"p","x":612.5,"y":-0.205},{"s":"p","x":637.5,"y":-0.225},{"s":"p","x":662.5,"y":-0.30},{"s":"p","x":687.5,"y":-0.285},{"s":"p","x":712.5,"y":-0.315},{"s":"p","x":737.5,"y":-0.245},{"s":"p","x":762.5,"y":-0.245},{"s":"p","x":787.5,"y":-0.18},{"s":"p","x":812.5,"y":-0.235},{"s":"p","x":837.5,"y":-0.255},{"s":"p","x":862.5,"y":-0.255},{"s":"p","x":887.5,"y":-0.32},{"s":"p","x":912.5,"y":-0.275},{"s":"p","x":937.5,"y":-0.305},{"s":"p","x":962.5,"y":-0.29},{"s":"p","x":987.5,"y":-0.335},
{"s":"q","x":0,"y":0},{"s":"q","x":25,"y":-0.04},{"s":"q","x":50,"y":-0.07},{"s":"q","x":75,"y":-0.10},{"s":"q","x":100,"y":-0.13},{"s":"q","x":125,"y":-0.16},{"s":"q","x":150,"y":-0.22},{"s":"q","x":175,"y":-0.27},{"s":"q","x":200,"y":-0.34},{"s":"q","x":225,"y":-0.37},{"s":"q","x":250,"y":-0.41},{"s":"q","x":275,"y":-0.43},{"s":"q","x":300,"y":-0.39},{"s":"q","x":325,"y":-0.41},{"s":"q","x":350,"y":-0.36},{"s":"q","x":375,"y":-0.34},{"s":"q","x":400,"y":-0.32},{"s":"q","x":425,"y":-0.35},{"s":"q","x":450,"y":-0.37},{"s":"q","x":475,"y":-0.34},{"s":"q","x":500,"y":-0.32},{"s":"q","x":525,"y":-0.31},{"s":"q","x":550,"y":-0.26},{"s":"q","x":575,"y":-0.30},{"s":"q","x":600,"y":-0.41},{"s":"q","x":625,"y":-0.44},{"s":"q","x":650,"y":-0.51},{"s":"q","x":675,"y":-0.48},{"s":"q","x":700,"y":-0.41},{"s":"q","x":725,"y":-0.44},{"s":"q","x":750,"y":-0.39},{"s":"q","x":775,"y":-0.35},{"s":"q","x":800,"y":-0.41},{"s":"q","x":825,"y":-0.45},{"s":"q","x":850,"y":-0.47},{"s":"q","x":875,"y":-0.44},{"s":"q","x":900,"y":-0.46},{"s":"q","x":925,"y":-0.45},{"s":"q","x":950,"y":-0.56},{"s":"q","x":975,"y":-0.63},{"s":"q","x":1000,"y":-0.62},
{"s":"q","x":12.5,"y":-0.03},{"s":"q","x":37.5,"y":-0.075},{"s":"q","x":62.5,"y":-0.065},{"s":"q","x":87.5,"y":-0.125},{"s":"q","x":112.5,"y":-0.115},{"s":"q","x":137.5,"y":-0.21},{"s":"q","x":162.5,"y":-0.255},{"s":"q","x":187.5,"y":-0.285},{"s":"q","x":212.5,"y":-0.385},{"s":"q","x":237.5,"y":-0.38},{"s":"q","x":262.5,"y":-0.40},{"s":"q","x":287.5,"y":-0.43},{"s":"q","x":312.5,"y":-0.39},{"s":"q","x":337.5,"y":-0.405},{"s":"q","x":362.5,"y":-0.32},{"s":"q","x":387.5,"y":-0.34},{"s":"q","x":412.5,"y":-0.355},{"s":"q","x":437.5,"y":-0.34},{"s":"q","x":462.5,"y":-0.345},{"s":"q","x":487.5,"y":-0.36},{"s":"q","x":512.5,"y":-0.295},{"s":"q","x":537.5,"y":-0.295},{"s":"q","x":562.5,"y":-0.30},{"s":"q","x":587.5,"y":-0.325},{"s":"q","x":612.5,"y":-0.435},{"s":"q","x":637.5,"y":-0.455},{"s":"q","x":662.5,"y":-0.515},{"s":"q","x":687.5,"y":-0.435},{"s":"q","x":712.5,"y":-0.455},{"s":"q","x":737.5,"y":-0.395},{"s":"q","x":762.5,"y":-0.36},{"s":"q","x":787.5,"y":-0.40},{"s":"q","x":812.5,"y":-0.41},{"s":"q","x":837.5,"y":-0.48},{"s":"q","x":862.5,"y":-0.445},{"s":"q","x":887.5,"y":-0.48},{"s":"q","x":912.5,"y":-0.435},{"s":"q","x":937.5,"y":-0.495},{"s":"q","x":962.5,"y":-0.615},{"s":"q","x":987.5,"y":-0.595},
{"s":"r","x":0,"y":0},{"s":"r","x":25,"y":-0.03},{"s":"r","x":50,"y":-0.06},{"s":"r","x":75,"y":-0.09},{"s":"r","x":100,"y":-0.10},{"s":"r","x":125,"y":-0.14},{"s":"r","x":150,"y":-0.19},{"s":"r","x":175,"y":-0.23},{"s":"r","x":200,"y":-0.26},{"s":"r","x":225,"y":-0.31},{"s":"r","x":250,"y":-0.36},{"s":"r","x":275,"y":-0.33},{"s":"r","x":300,"y":-0.35},{"s":"r","x":325,"y":-0.30},{"s":"r","x":350,"y":-0.27},{"s":"r","x":375,"y":-0.31},{"s":"r","x":400,"y":-0.29},{"s":"r","x":425,"y":-0.32},{"s":"r","x":450,"y":-0.30},{"s":"r","x":475,"y":-0.27},{"s":"r","x":500,"y":-0.28},{"s":"r","x":525,"y":-0.25},{"s":"r","x":550,"y":-0.28},{"s":"r","x":575,"y":-0.31},{"s":"r","x":600,"y":-0.26},{"s":"r","x":625,"y":-0.31},{"s":"r","x":650,"y":-0.37},{"s":"r","x":675,"y":-0.34},{"s":"r","x":700,"y":-0.30},{"s":"r","x":725,"y":-0.27},{"s":"r","x":750,"y":-0.25},{"s":"r","x":775,"y":-0.28},{"s":"r","x":800,"y":-0.30},{"s":"r","x":825,"y":-0.33},{"s":"r","x":850,"y":-0.36},{"s":"r","x":875,"y":-0.34},{"s":"r","x":900,"y":-0.38},{"s":"r","x":925,"y":-0.36},{"s":"r","x":950,"y":-0.40},{"s":"r","x":975,"y":-0.43},{"s":"r","x":1000,"y":-0.41},
{"s":"r","x":12.5,"y":-0.005},{"s":"r","x":37.5,"y":-0.075},{"s":"r","x":62.5,"y":-0.055},{"s":"r","x":87.5,"y":-0.085},{"s":"r","x":112.5,"y":-0.14},{"s":"r","x":137.5,"y":-0.135},{"s":"r","x":162.5,"y":-0.22},{"s":"r","x":187.5,"y":-0.265},{"s":"r","x":212.5,"y":-0.265},{"s":"r","x":237.5,"y":-0.345},{"s":"r","x":262.5,"y":-0.325},{"s":"r","x":287.5,"y":-0.37},{"s":"r","x":312.5,"y":-0.315},{"s":"r","x":337.5,"y":-0.265},{"s":"r","x":362.5,"y":-0.31},{"s":"r","x":387.5,"y":-0.31},{"s":"r","x":412.5,"y":-0.275},{"s":"r","x":437.5,"y":-0.33},{"s":"r","x":462.5,"y":-0.275},{"s":"r","x":487.5,"y":-0.255},{"s":"r","x":512.5,"y":-0.295},{"s":"r","x":537.5,"y":-0.255},{"s":"r","x":562.5,"y":-0.315},{"s":"r","x":587.5,"y":-0.265},{"s":"r","x":612.5,"y":-0.295},{"s":"r","x":637.5,"y":-0.31},{"s":"r","x":662.5,"y":-0.375},{"s":"r","x":687.5,"y":-0.33},{"s":"r","x":712.5,"y":-0.265},{"s":"r","x":737.5,"y":-0.28},{"s":"r","x":762.5,"y":-0.245},{"s":"r","x":787.5,"y":-0.30},{"s":"r","x":812.5,"y":-0.285},{"s":"r","x":837.5,"y":-0.365},{"s":"r","x":862.5,"y":-0.36},{"s":"r","x":887.5,"y":-0.34},{"s":"r","x":912.5,"y":-0.40},{"s":"r","x":937.5,"y":-0.37},{"s":"r","x":962.5,"y":-0.395},{"s":"r","x":987.5,"y":-0.44},
{"s":"s","x":0,"y":0},{"s":"s","x":25,"y":0.04},{"s":"s","x":50,"y":0.02},{"s":"s","x":75,"y":0.06},{"s":"s","x":100,"y":0.05},{"s":"s","x":125,"y":0.09},{"s":"s","x":150,"y":0.06},{"s":"s","x":175,"y":0.03},{"s":"s","x":200,"y":0.02},{"s":"s","x":225,"y":0.05},{"s":"s","x":250,"y":0.08},{"s":"s","x":275,"y":0.12},{"s":"s","x":300,"y":0.10},{"s":"s","x":325,"y":0.13},{"s":"s","x":350,"y":0.16},{"s":"s","x":375,"y":0.14},{"s":"s","x":400,"y":0.18},{"s":"s","x":425,"y":0.21},{"s":"s","x":450,"y":0.19},{"s":"s","x":475,"y":0.23},{"s":"s","x":500,"y":0.25},{"s":"s","x":525,"y":0.22},{"s":"s","x":550,"y":0.20},{"s":"s","x":575,"y":0.17},{"s":"s","x":600,"y":0.19},{"s":"s","x":625,"y":0.16},{"s":"s","x":650,"y":0.13},{"s":"s","x":675,"y":0.15},{"s":"s","x":700,"y":0.12},{"s":"s","x":725,"y":0.14},{"s":"s","x":750,"y":0.11},{"s":"s","x":775,"y":0.13},{"s":"s","x":800,"y":0.15},{"s":"s","x":825,"y":0.11},{"s":"s","x":850,"y":0.08},{"s":"s","x":875,"y":0.06},{"s":"s","x":900,"y":0.05},{"s":"s","x":925,"y":0.03},{"s":"s","x":950,"y":0.05},{"s":"s","x":975,"y":0.02},{"s":"s","x":1000,"y":0.03},
{"s":"s","x":12.5,"y":0.01},{"s":"s","x":37.5,"y":0.05},{"s":"s","x":62.5,"y":0.01},{"s":"s","x":87.5,"y":0.065},{"s":"s","x":112.5,"y":0.09},{"s":"s","x":137.5,"y":0.055},{"s":"s","x":162.5,"y":0.055},{"s":"s","x":187.5,"y":0.005},{"s":"s","x":212.5,"y":0.065},{"s":"s","x":237.5,"y":0.055},{"s":"s","x":262.5,"y":0.08},{"s":"s","x":287.5,"y":0.13},{"s":"s","x":312.5,"y":0.125},{"s":"s","x":337.5,"y":0.115},{"s":"s","x":362.5,"y":0.17},{"s":"s","x":387.5,"y":0.15},{"s":"s","x":412.5,"y":0.175},{"s":"s","x":437.5,"y":0.23},{"s":"s","x":462.5,"y":0.20},{"s":"s","x":487.5,"y":0.26},{"s":"s","x":512.5,"y":0.215},{"s":"s","x":537.5,"y":0.22},{"s":"s","x":562.5,"y":0.155},{"s":"s","x":587.5,"y":0.20},{"s":"s","x":612.5,"y":0.185},{"s":"s","x":637.5,"y":0.125},{"s":"s","x":662.5,"y":0.16},{"s":"s","x":687.5,"y":0.115},{"s":"s","x":712.5,"y":0.14},{"s":"s","x":737.5,"y":0.095},{"s":"s","x":762.5,"y":0.14},{"s":"s","x":787.5,"y":0.15},{"s":"s","x":812.5,"y":0.11},{"s":"s","x":837.5,"y":0.125},{"s":"s","x":862.5,"y":0.06},{"s":"s","x":887.5,"y":0.035},{"s":"s","x":912.5,"y":0.06},{"s":"s","x":937.5,"y":0.03},{"s":"s","x":962.5,"y":0.065},{"s":"s","x":987.5,"y":0.005},
{"s":"t","x":0,"y":0},{"s":"t","x":25,"y":-0.01},{"s":"t","x":50,"y":0.01},{"s":"t","x":75,"y":-0.02},{"s":"t","x":100,"y":-0.02},{"s":"t","x":125,"y":-0.05},{"s":"t","x":150,"y":-0.03},{"s":"t","x":175,"y":-0.06},{"s":"t","x":200,"y":-0.08},{"s":"t","x":225,"y":-0.06},{"s":"t","x":250,"y":-0.09},{"s":"t","x":275,"y":-0.12},{"s":"t","x":300,"y":-0.12},{"s":"t","x":325,"y":-0.15},{"s":"t","x":350,"y":-0.13},{"s":"t","x":375,"y":-0.17},{"s":"t","x":400,"y":-0.20},{"s":"t","x":425,"y":-0.18},{"s":"t","x":450,"y":-0.21},{"s":"t","x":475,"y":-0.19},{"s":"t","x":500,"y":-0.22},{"s":"t","x":525,"y":-0.25},{"s":"t","x":550,"y":-0.27},{"s":"t","x":575,"y":-0.24},{"s":"t","x":600,"y":-0.30},{"s":"t","x":625,"y":-0.28},{"s":"t","x":650,"y":-0.26},{"s":"t","x":675,"y":-0.23},{"s":"t","x":700,"y":-0.25},{"s":"t","x":725,"y":-0.28},{"s":"t","x":750,"y":-0.26},{"s":"t","x":775,"y":-0.30},{"s":"t","x":800,"y":-0.30},{"s":"t","x":825,"y":-0.33},{"s":"t","x":850,"y":-0.31},{"s":"t","x":875,"y":-0.34},{"s":"t","x":900,"y":-0.35},{"s":"t","x":925,"y":-0.32},{"s":"t","x":950,"y":-0.35},{"s":"t","x":975,"y":-0.38},{"s":"t","x":1000,"y":-0.36},
{"s":"t","x":12.5,"y":-0.015},{"s":"t","x":37.5,"y":-0.02},{"s":"t","x":62.5,"y":0.015},{"s":"t","x":87.5,"y":-0.03},{"s":"t","x":112.5,"y":-0.015},{"s":"t","x":137.5,"y":-0.07},{"s":"t","x":162.5,"y":-0.035},{"s":"t","x":187.5,"y":-0.05},{"s":"t","x":212.5,"y":-0.09},{"s":"t","x":237.5,"y":-0.085},{"s":"t","x":262.5,"y":-0.075},{"s":"t","x":287.5,"y":-0.14},{"s":"t","x":312.5,"y":-0.125},{"s":"t","x":337.5,"y":-0.12},{"s":"t","x":362.5,"y":-0.18},{"s":"t","x":387.5,"y":-0.175},{"s":"t","x":412.5,"y":-0.21},{"s":"t","x":437.5,"y":-0.175},{"s":"t","x":462.5,"y":-0.21},{"s":"t","x":487.5,"y":-0.175},{"s":"t","x":512.5,"y":-0.255},{"s":"t","x":537.5,"y":-0.27},{"s":"t","x":562.5,"y":-0.235},{"s":"t","x":587.5,"y":-0.29},{"s":"t","x":612.5,"y":-0.27},{"s":"t","x":637.5,"y":-0.28},{"s":"t","x":662.5,"y":-0.215},{"s":"t","x":687.5,"y":-0.26},{"s":"t","x":712.5,"y":-0.275},{"s":"t","x":737.5,"y":-0.25},{"s":"t","x":762.5,"y":-0.31},{"s":"t","x":787.5,"y":-0.29},{"s":"t","x":812.5,"y":-0.295},{"s":"t","x":837.5,"y":-0.34},{"s":"t","x":862.5,"y":-0.315},{"s":"t","x":887.5,"y":-0.375},{"s":"t","x":912.5,"y":-0.315},{"s":"t","x":937.5,"y":-0.325},{"s":"t","x":962.5,"y":-0.385},{"s":"t","x":987.5,"y":-0.34}
]},
"mark":{"type":"line","color":"#4646ff","strokeWidth":0.9},
"encoding":{
"x":{"field":"x","type":"quantitative","scale":{"domain":[0,1000],"nice":false},"axis":{"orient":"bottom","values":[0,100,200,300,400,500,600,700,800,900,1000],"format":"d","title":"Time","tickSize":-4,"labelPadding":8,"titlePadding":1}},
"y":{"field":"y","type":"quantitative","scale":{"domain":[-0.8,0.8],"nice":false},"axis":{"orient":"left","values":[-0.8,-0.6,-0.4,-0.2,0,0.2,0.4,0.6,0.8],"title":"Displacements of molecules","tickSize":-4,"labelPadding":7,"titlePadding":1,"labelExpr":"datum.value == 0 ? '0' : (datum.value < 0 ? '-' + format(-datum.value, '.1f') : format(datum.value, '.1f'))"}},
"detail":{"field":"s","type":"nominal"}}},
{"data":{"values":[
{"s":"u","x":0,"y":0},{"s":"u","x":10,"y":0.027},{"s":"u","x":25,"y":0.043},{"s":"u","x":50,"y":0.060},{"s":"u","x":100,"y":0.085},{"s":"u","x":150,"y":0.105},{"s":"u","x":200,"y":0.121},{"s":"u","x":300,"y":0.148},{"s":"u","x":400,"y":0.171},{"s":"u","x":500,"y":0.191},{"s":"u","x":600,"y":0.209},{"s":"u","x":700,"y":0.226},{"s":"u","x":800,"y":0.241},{"s":"u","x":900,"y":0.256},{"s":"u","x":1000,"y":0.27},
{"s":"w","x":0,"y":0},{"s":"w","x":10,"y":-0.026},{"s":"w","x":25,"y":-0.041},{"s":"w","x":50,"y":-0.058},{"s":"w","x":100,"y":-0.082},{"s":"w","x":150,"y":-0.101},{"s":"w","x":200,"y":-0.117},{"s":"w","x":300,"y":-0.143},{"s":"w","x":400,"y":-0.165},{"s":"w","x":500,"y":-0.184},{"s":"w","x":600,"y":-0.201},{"s":"w","x":700,"y":-0.217},{"s":"w","x":800,"y":-0.232},{"s":"w","x":900,"y":-0.247},{"s":"w","x":1000,"y":-0.26}
]},
"mark":{"type":"line","color":"#ff3030","strokeWidth":0.8},
"encoding":{
"x":{"field":"x","type":"quantitative","axis":null},
"y":{"field":"y","type":"quantitative","axis":null},
"detail":{"field":"s","type":"nominal"}}},
{"data":{"values":[{"x":0,"y":0},{"x":1000,"y":0}]},
"mark":{"type":"point","opacity":0},
"encoding":{
"x":{"field":"x","type":"quantitative","axis":{"orient":"top","values":[0,100,200,300,400,500,600,700,800,900,1000],"labels":false,"title":null,"tickSize":-4}},
"y":{"field":"y","type":"quantitative","axis":{"orient":"right","values":[-0.8,-0.6,-0.4,-0.2,0,0.2,0.4,0.6,0.8],"labels":false,"title":null,"tickSize":-4}}}}
]
}
